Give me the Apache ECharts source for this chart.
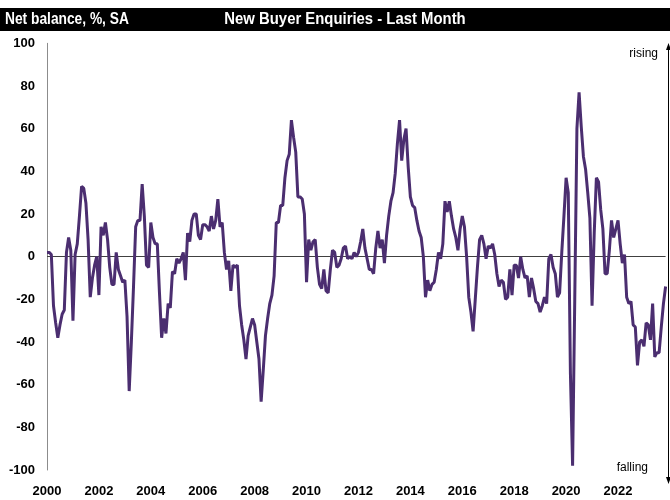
<!DOCTYPE html>
<html>
<head>
<meta charset="utf-8">
<script src="https://cdn.jsdelivr.net/npm/echarts@6/dist/echarts.min.js"></script>
<style>
html,body{margin:0;padding:0;background:#fff;}
#chart{width:670px;height:500px;}
</style>
</head>
<body>
<div id="chart"></div>
<script>
// Monthly net balance, Jan 2000 .. Nov 2023
const v2000 = [2, 2, 1, -23, -31, -38, -32, -27, -25, 2, 9, 3];
const v2001 = [-30, 1, 6, 19, 33, 32, 25, 8, -19, -10, -4, 0];
const v2002 = [-18, 14, 10, 16, 8, -5, -13, -13, 2, -6, -9, -12];
const v2003 = [-11, -28, -63, -40, -14, 14, 17, 17, 34, 19, -4, -5];
const v2004 = [16, 9, 6, 6, -17, -38, -29, -36, -22, -24, -7, -8];
const v2005 = [-1, -3, -1, 2, -11, 11, 7, 17, 20, 20, 10, 8];
const v2006 = [15, 15, 14, 12, 19, 13, 17, 27, 14, 16, 2, -6];
const v2007 = [-2, -16, -4, -5, -4, -23, -32, -39, -48, -37, -33, -29];
const v2008 = [-32, -40, -48, -68, -53, -37, -29, -22, -18, -9, 16, 16];
const v2009 = [24, 24, 37, 45, 48, 64, 56, 49, 28, 28, 27, 20];
const v2010 = [-12, 8, 3, 7, 8, -5, -13, -15, -6, -16, -17, -6];
const v2011 = [3, 2, -5, -4, -1, 4, 5, -1, 0, -1, 2, 0];
const v2012 = [2, 7, 13, 4, -1, -6, -6, -8, 4, 12, 4, 8];
const v2013 = [-3, 10, 19, 26, 30, 39, 53, 64, 45, 55, 60, 42];
const v2014 = [28, 24, 23, 17, 12, 9, 0, -19, -11, -16, -13, -12];
const v2015 = [-6, 2, -1, 6, 26, 21, 26, 19, 13, 9, 3, 13];
const v2016 = [19, 14, 0, -19, -26, -35, -20, -5, 8, 10, 6, -1];
const v2017 = [5, 4, 6, 1, -8, -14, -11, -12, -20, -19, -6, -18];
const v2018 = [-4, -4, -10, 0, -6, -10, -9, -19, -10, -15, -21, -22];
const v2019 = [-26, -23, -19, -22, -1, 1, -5, -8, -19, -17, 2, 19];
const v2020 = [37, 30, -55, -98, -20, 60, 77, 61, 47, 41, 30, 18];
const v2021 = [-23, 11, 37, 35, 22, 13, -8, -8, 3, 17, 9, 13];
const v2022 = [17, 6, -3, 1, -19, -22, -21, -32, -33, -51, -40, -39];
const v2023 = [-42, -31, -32, -39, -22, -47, -45, -45, -33, -22, -14];

const years = [v2000,v2001,v2002,v2003,v2004,v2005,v2006,v2007,v2008,v2009,v2010,v2011,
               v2012,v2013,v2014,v2015,v2016,v2017,v2018,v2019,v2020,v2021,v2022,v2023];
const startYear = 2000;
const values = [];
const months = [];
years.forEach((arr, yi) => {
  arr.forEach((v, mi) => {
    values.push(v);
    months.push((startYear + yi) + '-' + String(mi + 1).padStart(2, '0'));
  });
});

const yTicks = { min: -100, max: 100, interval: 20 };
const headerLeft = 'Net balance, %, SA';
const headerTitle = 'New Buyer Enquiries - Last Month';
const upLabel = 'rising';
const downLabel = 'falling';

const chart = echarts.init(document.getElementById('chart'), null, { renderer: 'canvas' });
const arial = "'Liberation Sans', Arial, sans-serif";

chart.setOption({
  animation: false,
  backgroundColor: '#ffffff',
  grid: { left: 47, right: 4.4, top: 43.3, bottom: 30, containLabel: false },
  xAxis: {
    type: 'category',
    data: months,
    boundaryGap: false,
    axisLine: { show: false },
    axisTick: { show: false },
    splitLine: { show: false },
    axisLabel: {
      interval: (idx) => idx % 24 === 0,
      formatter: (val) => val.slice(0, 4),
      fontFamily: arial, fontWeight: 'bold', fontSize: 13, color: '#000',
      margin: 15
    }
  },
  yAxis: {
    type: 'value',
    min: yTicks.min, max: yTicks.max, interval: yTicks.interval,
    axisLine: { show: true, lineStyle: { color: '#8c8c8c', width: 1 } },
    axisTick: { show: false },
    splitLine: { show: false },
    axisLabel: { fontFamily: arial, fontWeight: 'bold', fontSize: 13, color: '#000', margin: 12 }
  },
  series: [{
    type: 'line',
    data: values,
    showSymbol: false,
    symbol: 'none',
    lineStyle: { color: '#4b2e70', width: 3 },
    z: 3,
    markLine: {
      silent: true,
      symbol: 'none',
      label: { show: false },
      lineStyle: { color: '#404040', width: 1, type: 'solid' },
      data: [{ yAxis: 0 }],
      z: 2
    }
  }],
  graphic: [
    { type: 'rect', shape: { x: 0, y: 8, width: 670, height: 23 }, style: { fill: '#000' }, z: 10 },
    { type: 'text', x: 5, y: 20, scaleX: 0.86, z: 11,
      style: { text: headerLeft, fill: '#fff', font: "bold 16px " + arial, textAlign: 'left', textVerticalAlign: 'middle' } },
    { type: 'text', x: 345, y: 20, scaleX: 0.93, z: 11,
      style: { text: headerTitle, fill: '#fff', font: "bold 16px " + arial, textAlign: 'center', textVerticalAlign: 'middle' } },
    { type: 'line', shape: { x1: 668.5, y1: 47, x2: 668.5, y2: 480 }, style: { stroke: '#000', lineWidth: 1 }, z: 5 },
    { type: 'polygon', shape: { points: [[668.5, 43], [666, 50], [671, 50]] }, style: { fill: '#000' }, z: 5 },
    { type: 'polygon', shape: { points: [[668.5, 484], [666, 477], [671, 477]] }, style: { fill: '#000' }, z: 5 },
    { type: 'text', x: 658, y: 54, z: 6,
      style: { text: upLabel, fill: '#000', font: "12px " + arial, textAlign: 'right', textVerticalAlign: 'middle' } },
    { type: 'text', x: 648, y: 468, z: 6,
      style: { text: downLabel, fill: '#000', font: "12px " + arial, textAlign: 'right', textVerticalAlign: 'middle' } }
  ]
});
</script>
</body>
</html>
